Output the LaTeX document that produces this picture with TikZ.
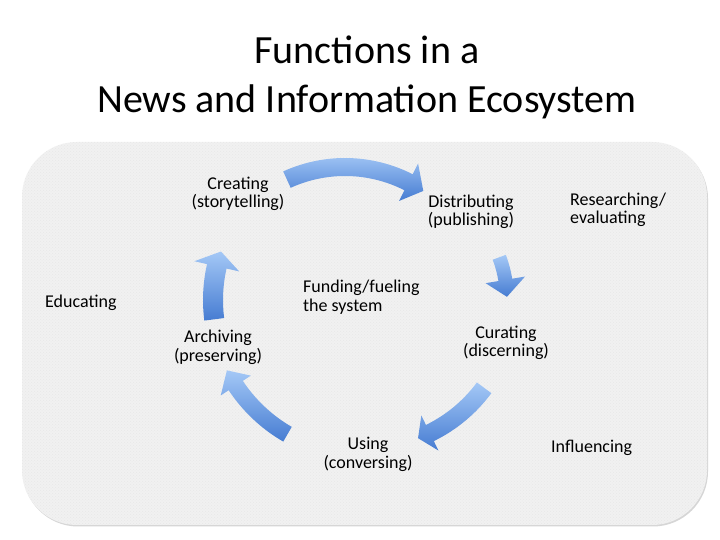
\documentclass[tikz,border=0pt]{standalone}
\usepackage{fontspec}
\setmainfont{Carlito}
\usetikzlibrary{patterns}

\definecolor{flowlight}{RGB}{164,200,246}
\definecolor{flowdark}{RGB}{70,124,210}
\definecolor{boardfill}{RGB}{241,241,241}

% curved block arrow: centre x, centre y, radius, tail angle,
% head-base angle, tip angle, body width, head half width
\newcommand{\flowarrow}[8]{%
  \shade[flowshade, shift={(#1,#2)}]
    (#4:{#3+#7/2}) arc[start angle=#4, end angle=#5, radius={#3+#7/2}]
    -- (#5:{#3+#8}) -- (#6:#3) -- (#5:{#3-#8}) -- (#5:{#3-#7/2})
    arc[start angle=#5, end angle=#4, radius={#3-#7/2}] -- cycle;}

\begin{document}
\begin{tikzpicture}[
  x=1pt, y=1pt,
  title/.style={font=\fontsize{40}{49}\selectfont, anchor=base, inner sep=0pt},
  func/.style={font=\fontsize{18}{18.5}\selectfont, align=center, inner sep=0pt},
  side/.style={func, align=left, anchor=west},
  panel/.style={rectangle, rounded corners=55pt, minimum width=685pt,
    minimum height=383pt, inner sep=0pt},
  flowshade/.style={top color=flowlight, bottom color=flowdark}
]
\useasboundingbox (0,0) rectangle (720,540);
\fill[white] (0,0) rectangle (720,540);

% --- Title ---
\node[title] (title1) at (367, 476) {Functions in a};
\node[title] (title2) at (367, 427) {News and Information Ecosystem};

% --- Board ---
\node[panel, fill=black!16] (shadow) at (365.5, 205) {};
\node[panel, fill=boardfill] (board) at (364.5, 206.5) {};
\node[panel, pattern=crosshatch dots, pattern color=black!9] at (board.center) {};

% --- Cycle arrows ---
\flowarrow{345}{233}{140}{114.5}{63}{56}{18}{21}    % creating -> distributing
\flowarrow{385}{240}{122}{20.5}{9.5}{1.5}{14}{20}   % distributing -> curating
\flowarrow{365}{240}{148}{-36.4}{-64}{-69}{18}{19.5} % curating -> using
\flowarrow{365}{240}{155}{-120}{-146.5}{-153}{17}{18} % using -> archiving
\flowarrow{365}{240}{152}{187.3}{167.2}{161.4}{20}{23} % archiving -> creating

% --- Functions on the cycle ---
\node[func] (creating)     at (238, 346)   {Creating\\(storytelling)};
\node[func] (distributing) at (471, 328)   {Distributing\\(publishing)};
\node[func] (curating)     at (506, 197)   {Curating\\(discerning)};
\node[func] (using)        at (368, 85.5)  {Using\\(conversing)};
\node[func] (archiving)    at (218, 192.5) {Archiving\\(preserving)};

% --- Functions around it ---
\node[side] (funding)     at (303, 243)   {Funding/fueling\\the system};
\node[side] (researching) at (570, 330)   {Researching/\\evaluating};
\node[side] (educating)   at (45, 237.3)  {Educating};
\node[side] (influencing) at (551, 92.3)  {Influencing};

\end{tikzpicture}
\end{document}
